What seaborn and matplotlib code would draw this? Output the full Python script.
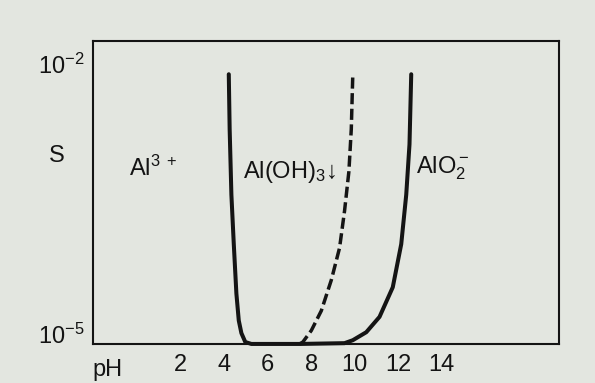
import matplotlib
matplotlib.use("Agg")
import matplotlib.pyplot as plt
import seaborn as sns
import pandas as pd

# ---- data ----
ph_solid = [4.21, 4.25, 4.33, 4.44, 4.56, 4.67, 4.79, 4.97, 5.25, 7.50, 9.54, 9.92,
            10.54, 11.15, 11.76, 12.15, 12.38, 12.53, 12.61]
s_solid = [1.0e-2, 2.45e-3, 4.57e-4, 1.29e-4, 3.63e-5, 1.82e-5, 1.32e-5, 1.05e-5, 1.0e-5, 1.0e-5, 1.02e-5, 1.10e-5,
           1.35e-5, 2.0e-5, 4.27e-5, 1.29e-4, 4.57e-4, 1.66e-3, 1.0e-2]
ph_dashed = [7.47, 7.62, 8.01, 8.47, 8.93, 9.31, 9.54, 9.74, 9.85, 9.92]
s_dashed = [1.0e-5, 1.05e-5, 1.41e-5, 2.34e-5, 5.13e-5, 1.17e-4, 3.02e-4, 8.3e-4, 2.45e-3, 1.0e-2]
x_ticks = [2, 4, 6, 8, 10, 12, 14]
y_ticks = [1e-5, 1e-2]
y_tick_labels = [r"$\mathregular{10^{-5}}$", r"$\mathregular{10^{-2}}$"]
region_labels = [r"$\mathregular{Al^{3\ +}}$", r"$\mathregular{Al(OH)_3}\!\downarrow$", r"$\mathregular{AlO_2^-}$"]
region_ph = [-0.4, 4.85, 12.85]
region_s = [9.1e-4, 8.1e-4, 8.9e-4]

paper = "#e3e6e0"
ink = "#141414"

sns.set_style("white")
plt.rcParams["font.family"] = ["Liberation Sans", "DejaVu Sans"]
plt.rcParams["mathtext.fontset"] = "custom"
plt.rcParams["mathtext.rm"] = "Liberation Sans"
plt.rcParams["mathtext.it"] = "Liberation Sans"

fig = plt.figure(figsize=(5.95, 3.83), dpi=100, facecolor=paper)
ax = fig.add_axes([0.156, 0.102, 0.783, 0.791])
ax.set_facecolor(paper)

df_s = pd.DataFrame({"pH": ph_solid, "S": s_solid})
df_d = pd.DataFrame({"pH": ph_dashed, "S": s_dashed})
sns.lineplot(data=df_s, x="pH", y="S", sort=False, estimator=None, color=ink, lw=2.9, ax=ax)
sns.lineplot(data=df_d, x="pH", y="S", sort=False, estimator=None, color=ink, lw=2.5,
             linestyle=(0, (3.2, 1.3)), ax=ax)
for ln in ax.lines:
    ln.set_clip_on(False)
    ln.set_solid_joinstyle("round")

ax.set_yscale("log")
ax.set_xlim(-2.05, 19.4)
ax.set_ylim(1e-5, 10 ** -1.63)

for sp in ax.spines.values():
    sp.set_color(ink)
    sp.set_linewidth(1.5)

ax.set_xticks(x_ticks)
ax.set_xticklabels([str(t) for t in x_ticks], fontsize=17)
ax.tick_params(axis="x", direction="in", length=4, width=1.4, color=ink, pad=7, labelcolor=ink)
ax.set_yticks(y_ticks)
ax.set_yticklabels(y_tick_labels, fontsize=17, va="baseline")
ax.yaxis.set_minor_locator(matplotlib.ticker.NullLocator())
ax.tick_params(axis="y", direction="in", length=6, width=1.4, color=ink, pad=6, labelcolor=ink)
ax.yaxis.get_major_ticks()[0].tick1line.set_visible(False)

ax.set_xlabel("")
ax.set_ylabel("")
ax.text(0.0, -0.086, "pH", transform=ax.transAxes, fontsize=17, ha="left", va="center", color=ink)
ax.text(-0.077, 0.62, "S", transform=ax.transAxes, fontsize=17, ha="center", va="center", color=ink)

for lab, xp, yp in zip(region_labels, region_ph, region_s):
    ax.text(xp, yp, lab, fontsize=17, ha="left", va="center", color=ink)

fig.savefig("out.png", dpi=100, facecolor=paper)
